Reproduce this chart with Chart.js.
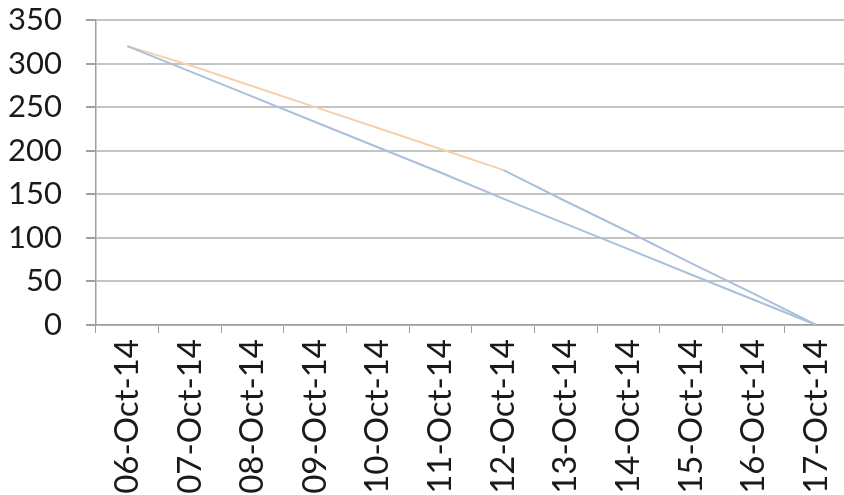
<!DOCTYPE html>
<html>
<head>
<meta charset="utf-8">
<script src="https://cdn.jsdelivr.net/npm/chart.js@4/dist/chart.umd.min.js"></script>
<style>
  html, body { margin: 0; padding: 0; background: #fff; overflow: hidden; }
  #wrap { width: 862px; height: 495px; }
</style>
</head>
<body>
<div id="wrap"><canvas id="burndown"></canvas></div>
<script>
// dates on the x axis
const days = ['06-Oct-14', '07-Oct-14', '08-Oct-14', '09-Oct-14', '10-Oct-14', '11-Oct-14',
              '12-Oct-14', '13-Oct-14', '14-Oct-14', '15-Oct-14', '16-Oct-14', '17-Oct-14'];
// ideal line
const ideal = [320, 291, 262, 233, 204, 175, 145, 116, 87, 58, 29, 0];
// actual remaining work (orange) up to 12-Oct
const actual = [320, 298, 274, 250, 226, 202, 178, null, null, null, null, null];
// projected rest (blue continuation)
const projected = [null, null, null, null, null, null, 178, 142, 107, 71, 36, 0];
const yTicks = [0, 50, 100, 150, 200, 250, 300, 350];

const fontFam = 'Lato, "Open Sans", sans-serif';

new Chart(document.getElementById('burndown'), {
    type: 'line',
    data: {
        labels: days,
        datasets: [{
            label: 'Ideal',
            data: ideal,
            borderColor: '#a9c0dc',
            borderWidth: 2,
            pointRadius: 0,
            tension: 0
        }, {
            label: 'Actual',
            data: actual,
            borderColor: '#f3d2b0',
            borderWidth: 2,
            pointRadius: 0,
            tension: 0,
            spanGaps: false
        }, {
            label: 'Projected',
            data: projected,
            borderColor: '#a9c0dc',
            borderWidth: 2,
            pointRadius: 0,
            tension: 0,
            spanGaps: false
        }]
    },
    options: {
        responsive: true,
        maintainAspectRatio: false,
        animation: false,
        layout: { padding: { top: 0, right: 3, left: 0, bottom: 0 } },
        plugins: { legend: { display: false }, tooltip: { enabled: false } },
        scales: {
            x: {
                offset: true,
                grid: {
                    display: true,
                    drawOnChartArea: false,
                    drawTicks: true,
                    tickLength: 8,
                    color: '#a0a0a0',
                    offset: true
                },
                border: { display: true, color: '#a0a0a0', width: 1.5 },
                ticks: {
                    minRotation: 90,
                    maxRotation: 90,
                    autoSkip: false,
                    padding: 6,
                    color: '#1a1a1a',
                    font: { family: fontFam, size: 33 }
                },
                afterFit: s => { s.height = 170; s.paddingTop = 0; }
            },
            y: {
                min: 0,
                max: 350,
                afterBuildTicks: s => { s.ticks = yTicks.map(v => ({ value: v })); },
                grid: {
                    color: '#c4c4c4',
                    lineWidth: 2,
                    drawTicks: true,
                    tickLength: 10,
                    tickColor: '#a0a0a0'
                },
                border: { display: true, color: '#a0a0a0', width: 1.5 },
                ticks: {
                    padding: 24,
                    color: '#1a1a1a',
                    font: { family: fontFam, size: 31 }
                },
                afterFit: s => { s.width = 96; s.paddingTop = 20; }
            }
        }
    }
});
</script>
</body>
</html>
